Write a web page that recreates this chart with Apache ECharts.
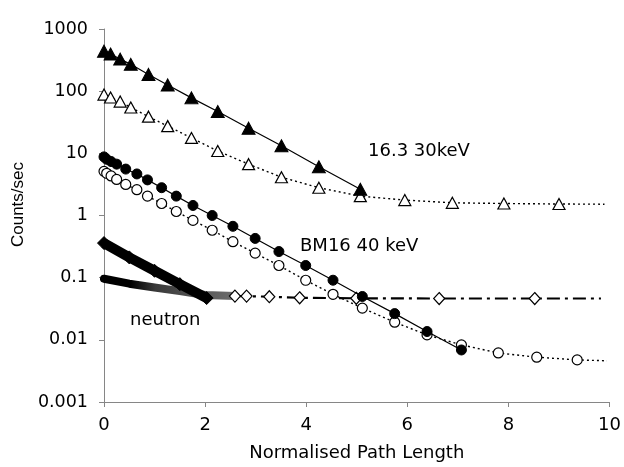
<!DOCTYPE html>
<html>
<head>
<meta charset="utf-8">
<script src="https://cdn.jsdelivr.net/npm/echarts@6/dist/echarts.min.js"></script>
<style>html,body{margin:0;padding:0;background:#fff}#c{width:624px;height:467px}</style>
</head>
<body>
<div id="c"></div>
<script>
// ---- data ----
var xTicks = [0, 2, 4, 6, 8, 10];
var yTicks = [0.001, 0.01, 0.1, 1, 10, 100, 1000];

// 16.3 30keV, filled triangles (solid line)
var triFillX = [0, 0.13, 0.32, 0.53, 0.88, 1.26, 1.73, 2.25, 2.86, 3.51, 4.25, 5.07];
var triFillY = [440, 395, 328, 270, 186, 126, 78, 47, 25.4, 13.2, 6.09, 2.64];

// 16.3 30keV, open triangles (dotted line) + end of dotted trend
var triOpenX = [0, 0.13, 0.32, 0.53, 0.88, 1.26, 1.73, 2.25, 2.86, 3.51, 4.25, 5.07, 5.95, 6.89, 7.91, 9.0];
var triOpenY = [88, 79, 68, 54.6, 38.9, 27.4, 17.7, 10.9, 6.7, 4.13, 2.8, 2.05, 1.77, 1.6, 1.56, 1.53];
var triOpenTrendEnd = [9.9, 1.52];

// BM16 40 keV, filled circles (solid line)
var cirFillX = [0, 0.053, 0.14, 0.25, 0.43, 0.65, 0.86, 1.14, 1.43, 1.76, 2.14, 2.55, 2.99, 3.46, 3.99, 4.53, 5.11, 5.75, 6.39, 7.07];
var cirFillY = [8.77, 8.03, 7.38, 6.7, 5.58, 4.66, 3.74, 2.8, 2.05, 1.45, 1.0, 0.67, 0.428, 0.263, 0.157, 0.091, 0.0498, 0.0264, 0.0136, 0.00687];

// BM16 40 keV, open circles (dotted line) + end of dotted trend
var cirOpenX = [0, 0.053, 0.14, 0.25, 0.43, 0.65, 0.86, 1.14, 1.43, 1.76, 2.14, 2.55, 2.99, 3.46, 3.99, 4.53, 5.11, 5.75, 6.39, 7.07, 7.8, 8.56, 9.36];
var cirOpenY = [5.13, 4.77, 4.33, 3.8, 3.16, 2.6, 2.05, 1.56, 1.16, 0.834, 0.579, 0.379, 0.248, 0.157, 0.0908, 0.054, 0.0324, 0.0192, 0.012, 0.0083, 0.00615, 0.00526, 0.00476];
var cirOpenTrendEnd = [9.95, 0.0046];

// neutron, filled diamonds (dense band)
var neuFillX = [0, 0.5, 1.0, 1.5, 2.03];
var neuFillY = [0.36, 0.212, 0.129, 0.0787, 0.047];

// neutron, open diamonds: dense band part, then sparse points with dash-dot line
var neuOpenDenseX = [0, 0.5, 1.0, 1.5, 2.0, 2.59];
var neuOpenDenseY = [0.096, 0.08, 0.0695, 0.0608, 0.0526, 0.0505];
var neuOpenX = [2.59, 2.82, 3.27, 3.87, 4.99, 6.63, 8.52];
var neuOpenY = [0.0505, 0.0505, 0.0494, 0.0475, 0.0466, 0.0462, 0.0462];
var neuOpenTrendEnd = [9.83, 0.0462];

var labels = [
  {text: '16.3 30keV', x: 368, y: 153},
  {text: 'BM16 40 keV', x: 300, y: 248},
  {text: 'neutron', x: 130, y: 322}
];

function pts(xs, ys) { return xs.map(function (x, i) { return [x, ys[i]]; }); }
function withEnd(xs, ys, end) {
  var d = pts(xs, ys);
  d.push({value: end, symbol: 'none'});
  return d;
}

var HFONT = '"DejaVu Sans", Verdana, sans-serif';
var VFONT = '"Liberation Sans", Arial, Helvetica, sans-serif';
var chart = echarts.init(document.getElementById('c'), null, {renderer: 'canvas'});

var option = {
  animation: false,
  backgroundColor: '#fff',
  grid: {left: 104, right: 14, top: 29, bottom: 58, containLabel: false},
  xAxis: {
    type: 'value', min: xTicks[0], max: xTicks[xTicks.length - 1], interval: 2,
    name: 'Normalised Path Length', nameLocation: 'middle', nameGap: 42,
    nameTextStyle: {fontFamily: HFONT, fontSize: 18, color: '#000'},
    axisLine: {show: true, lineStyle: {color: '#868686', width: 1}},
    axisTick: {show: true, length: 5, lineStyle: {color: '#868686'}},
    axisLabel: {fontFamily: HFONT, fontSize: 18, color: '#000', margin: 14},
    splitLine: {show: false}
  },
  yAxis: {
    type: 'log', logBase: 10, min: yTicks[0], max: yTicks[yTicks.length - 1],
    name: 'Counts/sec', nameLocation: 'middle', nameGap: 71, nameRotate: 90,
    nameTextStyle: {fontFamily: VFONT, fontSize: 17, color: '#000', padding: [0, 0, 0, 22]},
    axisLine: {show: true, lineStyle: {color: '#868686', width: 1}},
    axisTick: {show: true, length: 5, lineStyle: {color: '#868686'}},
    axisLabel: {
      fontFamily: HFONT, fontSize: 17.5, color: '#000', margin: 16,
      formatter: function (v) {
        var best = yTicks[0];
        yTicks.forEach(function (t) { if (Math.abs(Math.log10(t) - Math.log10(v)) < Math.abs(Math.log10(best) - Math.log10(v))) best = t; });
        return String(best);
      }
    },
    splitLine: {show: false}
  },
  graphic: labels.map(function (l) {
    return {type: 'text', left: l.x, top: l.y - 11, z: 100,
      style: {text: l.text, font: '18px ' + HFONT, fill: '#000'}};
  }),
  series: [
    {
      name: 'neutron open dense', type: 'line', data: pts(neuOpenDenseX, neuOpenDenseY),
      symbol: 'none', z: 2,
      lineStyle: {width: 8, cap: 'round', join: 'round',
        color: new echarts.graphic.LinearGradient(0, 0, 1, 0, [
          {offset: 0, color: '#000'}, {offset: 0.22, color: '#000'},
          {offset: 0.4, color: '#3a3a3a'}, {offset: 1, color: '#707070'}])}
    },
    {
      name: 'neutron open', type: 'line', data: withEnd(neuOpenX, neuOpenY, neuOpenTrendEnd),
      symbol: 'diamond', symbolSize: [11, 12], showAllSymbol: true, z: 3,
      itemStyle: {color: '#fff', borderColor: '#000', borderWidth: 1.2},
      lineStyle: {color: '#000', width: 2.2, type: [13, 5, 3, 5]}
    },
    {
      name: 'neutron filled', type: 'line', data: pts(neuFillX, neuFillY),
      symbol: 'diamond', symbolSize: [13, 13], showAllSymbol: true, z: 4,
      itemStyle: {color: '#000', borderColor: '#000'},
      lineStyle: {color: '#000', width: 10}
    },
    {
      name: 'BM16 open', type: 'line', data: withEnd(cirOpenX, cirOpenY, cirOpenTrendEnd),
      symbol: 'circle', symbolSize: 10, showAllSymbol: true, z: 5,
      itemStyle: {color: '#fff', borderColor: '#000', borderWidth: 1.2},
      lineStyle: {color: '#000', width: 1.4, type: [2, 3]}
    },
    {
      name: 'BM16 filled', type: 'line', data: pts(cirFillX, cirFillY),
      symbol: 'circle', symbolSize: 10, showAllSymbol: true, z: 6,
      itemStyle: {color: '#000', borderColor: '#000'},
      lineStyle: {color: '#000', width: 1.2}
    },
    {
      name: '16.3 open', type: 'line', data: withEnd(triOpenX, triOpenY, triOpenTrendEnd),
      symbol: 'triangle', symbolSize: [12, 11], showAllSymbol: true, z: 7,
      itemStyle: {color: '#fff', borderColor: '#000', borderWidth: 1.2},
      lineStyle: {color: '#000', width: 1.4, type: [2, 3]}
    },
    {
      name: '16.3 filled', type: 'line', data: pts(triFillX, triFillY),
      symbol: 'triangle', symbolSize: [13, 12], showAllSymbol: true, z: 8,
      itemStyle: {color: '#000', borderColor: '#000'},
      lineStyle: {color: '#000', width: 1.2}
    }
  ]
};
chart.setOption(option);
</script>
</body>
</html>
